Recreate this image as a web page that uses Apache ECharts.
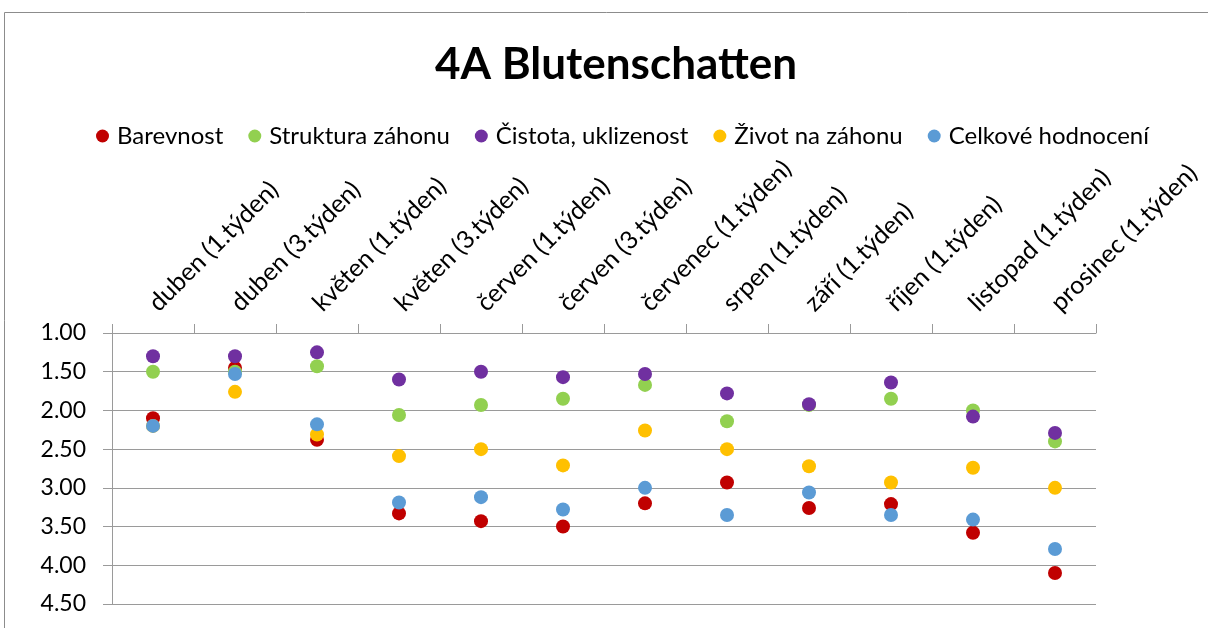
<!DOCTYPE html>
<html>
<head>
<meta charset="utf-8">
<script src="https://cdn.jsdelivr.net/npm/echarts@6/dist/echarts.min.js"></script>
<style>
  html, body { margin: 0; padding: 0; background: #fff; }
  #chart { width: 1208px; height: 628px; }
</style>
</head>
<body>
<div id="chart"></div>
<script>
// data
var categories = ['duben (1.týden)', 'duben (3.týden)', 'květen (1.týden)', 'květen (3.týden)',
  'červen (1.týden)', 'červen (3.týden)', 'červenec (1.týden)', 'srpen (1.týden)',
  'září (1.týden)', 'říjen (1.týden)', 'listopad (1.týden)', 'prosinec (1.týden)']
var barevnost = [2.10, 1.45, 2.38, 3.33, 3.43, 3.50, 3.20, 2.93, 3.26, 3.21, 3.58, 4.10]
var struktura = [1.50, 1.50, 1.43, 2.06, 1.93, 1.85, 1.67, 2.14, 1.93, 1.85, 2.00, 2.40]
var cistota = [1.30, 1.30, 1.25, 1.60, 1.50, 1.57, 1.53, 1.78, 1.92, 1.64, 2.08, 2.29]
var zivot = [2.20, 1.76, 2.31, 2.59, 2.50, 2.71, 2.26, 2.50, 2.72, 2.93, 2.74, 3.00]
var celkove = [2.20, 1.53, 2.18, 3.19, 3.12, 3.28, 3.00, 3.35, 3.06, 3.35, 3.41, 3.79]
var yTicks = [1.00, 1.50, 2.00, 2.50, 3.00, 3.50, 4.00, 4.50]

var font = 'Lato, "Liberation Sans", sans-serif'
var gridColor = '#9a9a9a'

function dots(name, values, color) {
  return {
    name: name,
    type: 'scatter',
    data: values,
    symbolSize: 14,
    itemStyle: { color: color, opacity: 1 },
    emphasis: { disabled: true }
  }
}

var option = {
  animation: false,
  textStyle: { fontFamily: font },
  title: {
    text: '4A Blutenschatten',
    left: 430,
    top: 38,
    textStyle: { fontFamily: font, fontSize: 44, fontWeight: 'bold', color: '#000' }
  },
  legend: {
    left: 91,
    top: 119,
    icon: 'circle',
    itemWidth: 13,
    itemHeight: 13,
    itemGap: 25,
    textStyle: { fontFamily: font, fontSize: 24, color: '#000', padding: [0, 0, 0, 3] }
  },
  grid: { left: 112, right: 112, top: 333, bottom: 24 },
  xAxis: {
    type: 'category',
    position: 'top',
    data: categories,
    boundaryGap: true,
    axisLine: { onZero: false, lineStyle: { color: gridColor } },
    axisTick: { show: true, length: 9, lineStyle: { color: gridColor } },
    axisLabel: { rotate: -45, margin: 26, fontSize: 25, color: '#000', fontFamily: font, interval: 0 },
    splitLine: { show: false }
  },
  yAxis: {
    type: 'value',
    inverse: true,
    min: yTicks[0],
    max: yTicks[yTicks.length - 1],
    interval: 0.5,
    axisLine: { show: true, lineStyle: { color: gridColor } },
    axisTick: { show: true, length: 9, lineStyle: { color: gridColor } },
    axisLabel: {
      margin: 26, fontSize: 23, color: '#000', fontFamily: font,
      formatter: function (v) { return v.toFixed(2) }
    },
    splitLine: { lineStyle: { color: gridColor } }
  },
  graphic: [{
    type: 'rect',
    shape: { x: 4.5, y: 12.5, width: 1400, height: 800 },
    style: { fill: 'none', stroke: '#8c8c8c', lineWidth: 1 },
    silent: true
  }],
  series: [
    dots('Barevnost', barevnost, '#C00000'),
    dots('Struktura záhonu', struktura, '#92D050'),
    dots('Čistota, uklizenost', cistota, '#7030A0'),
    dots('Život na záhonu', zivot, '#FFC000'),
    dots('Celkové hodnocení', celkove, '#5B9BD5')
  ]
}

var chart = echarts.init(document.getElementById('chart'))
chart.setOption(option)
</script>
</body>
</html>
